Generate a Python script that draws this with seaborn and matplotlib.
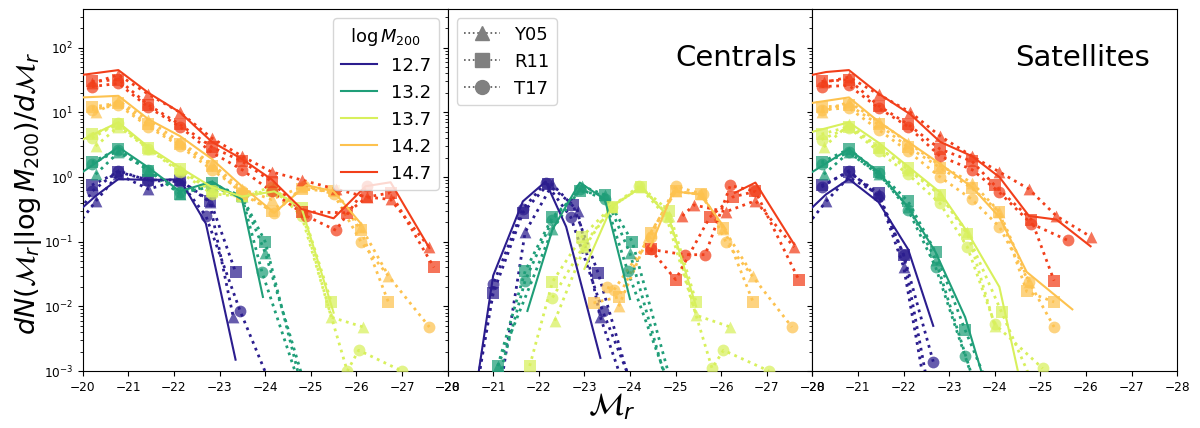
import matplotlib
matplotlib.use("Agg")
import matplotlib.pyplot as plt
import seaborn as sns
from matplotlib.lines import Line2D

# ---------------- data ----------------
MASSES = ["12.7", "13.2", "13.7", "14.2", "14.7"]
COLORS = ["#2b1d8e", "#1f9e78", "#d8f05c", "#fdc24f", "#f23f1a"]
MODELS = ["Y05", "R11", "T17"]
MARKERS = {"Y05": "^", "R11": "s", "T17": "o"}
PANEL_TEXT = ["", "Centrals", "Satellites"]
XTICKS = [-20, -21, -22, -23, -24, -25, -26, -27, -28]

# ---- total (left panel) ----
TOT_OBS = {
    "12.7": ([-20.0, -20.3, -20.78, -21.44, -22.13, -22.7, -23.35],
             [0.34, 0.52, 0.93, 0.9, 0.92, 0.19, 0.0015]),
    "13.2": ([-20.0, -20.78, -21.44, -22.13, -22.83, -23.49, -23.95],
             [1.2, 2.9, 1.4, 0.6, 0.85, 0.45, 0.014]),
    "13.7": ([-20.0, -20.78, -21.44, -22.13, -22.83, -23.49, -24.2, -24.8, -25.5],
             [3.8, 7.0, 2.9, 1.4, 0.7, 0.5, 0.6, 0.33, 0.008]),
    "14.2": ([-20.0, -20.78, -21.44, -22.13, -22.83, -23.49, -24.2, -24.9, -25.5, -26.1],
             [17, 18, 7.8, 4.3, 1.9, 0.72, 0.28, 0.75, 0.6, 0.19]),
    "14.7": ([-20.0, -20.78, -21.44, -22.13, -22.83, -23.49, -24.14, -24.8, -25.5, -26.2, -26.75, -27.6],
             [38, 45, 20, 10, 3.5, 1.9, 0.92, 0.32, 0.23, 0.72, 0.83, 0.08]),
}
TOT_Y05 = {
    "12.7": ([-19.8, -20.28, -20.78, -21.44, -22.13, -22.78, -23.3],
             [0.15, 0.42, 1.1, 0.65, 0.9, 0.41, 0.0068]),
    "13.2": ([-20.28, -20.78, -21.44, -22.13, -22.83, -23.49, -24.0, -25.0],
             [1.1, 2.4, 1.3, 0.55, 0.75, 0.5, 0.068, 0.0003]),
    "13.7": ([-20.28, -20.78, -21.44, -22.13, -22.83, -23.49, -24.2, -24.8, -25.45, -26.15],
             [3.0, 6.0, 2.7, 1.3, 0.6, 0.5, 0.65, 0.3, 0.0068, 0.0048]),
    "14.2": ([-20.28, -20.78, -21.44, -22.13, -22.83, -23.49, -24.14, -24.8, -25.5, -26.1, -26.7],
             [10, 15, 7.5, 3.5, 1.6, 0.65, 0.45, 0.7, 0.65, 0.17, 0.03]),
    "14.7": ([-20.2, -20.78, -21.44, -22.13, -22.83, -23.49, -24.14, -24.8, -25.55, -26.23, -26.75, -27.6],
             [28, 38, 19, 10, 4, 2.1, 1.2, 0.9, 0.65, 0.49, 0.45, 0.082]),
}
TOT_R11 = {
    "12.7": ([-20.2, -20.78, -21.44, -22.13, -22.8, -23.35],
             [0.75, 1.2, 0.9, 0.9, 0.42, 0.034]),
    "13.2": ([-20.2, -20.78, -21.44, -22.13, -22.83, -23.49, -24.0, -24.9],
             [1.7, 2.7, 1.25, 0.55, 0.8, 0.5, 0.1, 0.0003]),
    "13.7": ([-20.2, -20.78, -21.44, -22.13, -22.83, -23.49, -24.14, -24.8, -25.45],
             [4.6, 6.5, 2.8, 1.35, 0.6, 0.5, 0.6, 0.33, 0.0117]),
    "14.2": ([-20.2, -20.78, -21.44, -22.13, -22.83, -23.49, -24.14, -24.8, -25.5, -26.1, -26.7],
             [12, 14, 6.5, 3.2, 1.5, 0.55, 0.3, 0.65, 0.6, 0.15, 0.0117]),
    "14.7": ([-20.2, -20.78, -21.44, -22.13, -22.83, -23.49, -24.14, -24.8, -25.8, -26.23, -26.75, -27.7],
             [30, 32, 13, 6.5, 2.9, 1.75, 0.85, 0.29, 0.28, 0.49, 0.57, 0.04]),
}
TOT_T17 = {
    "12.7": ([-19.8, -20.2, -20.78, -21.44, -22.13, -22.7, -23.45, -24.3],
             [0.2, 0.6, 1.25, 0.88, 0.85, 0.25, 0.0085, 0.0003]),
    "13.2": ([-20.2, -20.78, -21.44, -22.13, -22.83, -23.49, -23.93, -24.9],
             [1.6, 2.6, 1.3, 0.58, 0.7, 0.5, 0.034, 0.0003]),
    "13.7": ([-20.2, -20.78, -21.44, -22.13, -22.83, -23.49, -24.14, -24.8, -25.8, -26.05, -27.0],
             [4.0, 6.8, 2.7, 1.2, 0.55, 0.5, 0.7, 0.25, 0.001, 0.0021, 0.001]),
    "14.2": ([-20.2, -20.78, -21.44, -22.13, -22.83, -23.49, -24.2, -24.85, -25.5, -26.1, -27.6],
             [11, 13, 6, 3, 1.3, 0.6, 0.28, 0.72, 0.55, 0.1, 0.0048]),
    "14.7": ([-20.2, -20.78, -21.44, -22.13, -22.83, -23.49, -24.14, -24.9, -25.55, -26.23],
             [25, 28, 12, 6, 2.4, 1.3, 0.6, 0.25, 0.15, 0.72]),
}

# ---- centrals (middle panel) ----
CEN_OBS = {
    "12.7": ([-20.62, -21.0, -21.65, -22.15, -22.6, -23.35],
             [0.0005, 0.03, 0.42, 0.85, 0.17, 0.0016]),
    "13.2": ([-21.75, -22.3, -22.9, -23.45, -24.0],
             [0.0085, 0.155, 0.82, 0.45, 0.013]),
    "13.7": ([-23.0, -23.6, -24.25, -24.85, -25.45],
             [0.038, 0.35, 0.7, 0.24, 0.01]),
    "14.2": ([-24.45, -24.95, -25.55, -26.1],
             [0.085, 0.6, 0.54, 0.155]),
    "14.7": ([-26.3, -26.75, -27.6],
             [0.57, 0.82, 0.091]),
}
CEN_Y05 = {
    "12.7": ([-21.15, -21.7, -22.3, -22.85, -23.35, -23.9],
             [0.0005, 0.14, 0.77, 0.3, 0.0068, 0.0005]),
    "13.2": ([-21.1, -22.3, -22.95, -23.45, -24.0, -24.85],
             [0.0012, 0.155, 0.72, 0.53, 0.066, 0.0005]),
    "13.7": ([-22.35, -23.0, -23.6, -24.25, -24.85, -25.45, -26.2],
             [0.006, 0.082, 0.35, 0.7, 0.25, 0.0073, 0.0048]),
    "14.2": ([-23.75, -24.4, -25.0, -25.55, -26.05, -26.7],
             [0.01, 0.12, 0.6, 0.54, 0.16, 0.03]),
    "14.7": ([-25.15, -25.4, -26.1, -26.75, -27.6],
             [0.25, 0.37, 0.29, 0.43, 0.082]),
}
CEN_R11 = {
    "12.7": ([-20.63, -21.0, -21.65, -22.2, -22.75, -23.3, -24.05],
             [0.0005, 0.016, 0.28, 0.77, 0.37, 0.033, 0.0005]),
    "13.2": ([-21.1, -21.7, -22.3, -22.9, -23.45, -24.05, -24.95],
             [0.0012, 0.035, 0.24, 0.6, 0.53, 0.1, 0.0005]),
    "13.7": ([-21.8, -22.3, -22.95, -23.6, -24.25, -24.85, -25.45],
             [0.0012, 0.024, 0.12, 0.35, 0.7, 0.3, 0.0117]),
    "14.2": ([-23.2, -23.75, -24.45, -25.0, -25.55, -26.05, -26.7],
             [0.0113, 0.014, 0.135, 0.6, 0.54, 0.165, 0.0117]),
    "14.7": ([-24.45, -25.0, -25.75, -26.25, -26.75, -27.7],
             [0.076, 0.026, 0.24, 0.49, 0.6, 0.026]),
}
CEN_T17 = {
    "12.7": ([-20.63, -21.0, -21.65, -22.15, -22.7, -23.4, -24.1],
             [0.0005, 0.022, 0.32, 0.82, 0.24, 0.0085, 0.0005]),
    "13.2": ([-21.05, -21.7, -22.3, -22.9, -23.45, -23.95, -24.9],
             [0.0005, 0.025, 0.22, 0.65, 0.45, 0.035, 0.0005]),
    "13.7": ([-22.3, -23.0, -23.6, -24.2, -24.8, -25.8, -26.05, -27.05],
             [0.0137, 0.09, 0.35, 0.72, 0.24, 0.0011, 0.0021, 0.001]),
    "14.2": ([-23.5, -23.65, -24.45, -25.0, -25.6, -26.1, -27.55],
             [0.0198, 0.018, 0.12, 0.72, 0.54, 0.1, 0.0048]),
    "14.7": ([-24.45, -25.2, -25.65, -26.2, -26.75],
             [0.076, 0.063, 0.063, 0.74, 0.6]),
}

# ---- satellites (right panel) ----
SAT_OBS = {
    "12.7": ([-20.0, -20.3, -20.8, -21.45, -22.1, -22.65],
             [0.34, 0.54, 0.93, 0.41, 0.076, 0.005]),
    "13.2": ([-20.0, -20.8, -21.45, -22.1, -22.7, -23.35, -23.83],
             [1.2, 2.7, 1.2, 0.34, 0.069, 0.0068, 0.0005]),
    "13.7": ([-20.0, -20.8, -21.45, -22.1, -22.8, -23.4, -24.1, -24.6],
             [5.0, 7.0, 3.4, 1.45, 0.58, 0.14, 0.02, 0.0005]),
    "14.2": ([-20.0, -20.8, -21.45, -22.1, -22.8, -23.5, -24.1, -24.7, -25.7],
             [14, 17, 7.2, 3.5, 1.6, 0.7, 0.24, 0.034, 0.009]),
    "14.7": ([-20.0, -20.3, -20.8, -21.45, -22.15, -22.8, -23.5, -24.1, -24.75, -25.35, -26.1],
             [38, 42, 45, 19.5, 9.3, 3.5, 2.1, 1.0, 0.25, 0.22, 0.085]),
}
SAT_Y05 = {
    "12.7": ([-19.8, -20.3, -20.8, -21.45, -22.0, -22.48],
             [0.15, 0.42, 1.0, 0.54, 0.041, 0.0005]),
    "13.2": ([-20.25, -20.8, -21.45, -22.1, -22.7, -23.6],
             [1.1, 2.4, 1.1, 0.35, 0.053, 0.0005]),
    "13.7": ([-20.25, -20.8, -21.45, -22.1, -22.8, -23.4, -24.0],
             [2.9, 6.5, 2.9, 1.3, 0.53, 0.14, 0.005]),
    "14.2": ([-20.2, -20.8, -21.45, -22.1, -22.8, -23.5, -24.1, -24.75],
             [10, 14.5, 7.2, 3.4, 1.5, 0.82, 0.29, 0.024]),
    "14.7": ([-20.25, -20.8, -21.45, -22.15, -22.8, -23.5, -24.1, -24.75, -25.35, -26.1],
             [29, 35, 19, 10, 4.3, 2.1, 1.2, 0.65, 0.25, 0.12]),
}
SAT_R11 = {
    "12.7": ([-20.2, -20.8, -21.45, -22.0, -22.55],
             [0.74, 1.2, 0.56, 0.063, 0.0005]),
    "13.2": ([-20.2, -20.8, -21.45, -22.1, -22.7, -23.35, -23.9],
             [1.7, 2.7, 1.2, 0.42, 0.069, 0.0043, 0.0005]),
    "13.7": ([-20.2, -20.8, -21.45, -22.1, -22.8, -23.4, -24.15, -24.9],
             [4.6, 6.0, 2.8, 1.4, 0.53, 0.13, 0.0081, 0.0005]),
    "14.2": ([-20.2, -20.8, -21.45, -22.1, -22.8, -23.5, -24.1, -24.7, -25.3],
             [12, 13, 6.5, 2.9, 1.4, 0.67, 0.29, 0.017, 0.0117]),
    "14.7": ([-20.2, -20.8, -21.45, -22.1, -22.8, -23.5, -24.0, -24.8, -25.3],
             [30, 32, 12.7, 6.5, 2.7, 1.75, 0.74, 0.22, 0.025]),
}
SAT_T17 = {
    "12.7": ([-20.2, -20.8, -21.45, -22.0, -22.65],
             [0.7, 1.25, 0.5, 0.063, 0.0014]),
    "13.2": ([-20.2, -20.8, -21.45, -22.1, -22.7, -23.35, -23.6],
             [1.6, 2.4, 1.15, 0.31, 0.041, 0.0017, 0.0005]),
    "13.7": ([-20.2, -20.8, -21.45, -22.1, -22.8, -23.4, -24.0, -25.05],
             [3.8, 5.8, 2.5, 1.1, 0.39, 0.082, 0.0053, 0.0011]),
    "14.2": ([-20.2, -20.8, -21.45, -22.1, -22.8, -23.5, -24.1, -24.75, -25.3],
             [11, 11.7, 5.4, 2.5, 1.0, 0.45, 0.17, 0.024, 0.0048]),
    "14.7": ([-20.2, -20.8, -21.45, -22.1, -22.8, -23.5, -24.1, -24.8, -25.6],
             [25, 26, 11.7, 6, 2.1, 1.3, 0.58, 0.19, 0.105]),
}

PANELS = [
    (TOT_OBS, {"Y05": TOT_Y05, "R11": TOT_R11, "T17": TOT_T17}),
    (CEN_OBS, {"Y05": CEN_Y05, "R11": CEN_R11, "T17": CEN_T17}),
    (SAT_OBS, {"Y05": SAT_Y05, "R11": SAT_R11, "T17": SAT_T17}),
]

# ---------------- figure ----------------
fig, axes = plt.subplots(1, 3, figsize=(12, 4.28), dpi=100, sharey=True)
fig.subplots_adjust(left=0.069, right=0.981, bottom=0.133, top=0.978, wspace=0)

for ax, (obs, models), ptxt in zip(axes, PANELS, PANEL_TEXT):
    ax.set_yscale("log")
    for m, c in zip(MASSES, COLORS):
        for mod in MODELS:
            xs, ys = models[mod][m]
            sns.lineplot(x=xs, y=ys, ax=ax, color=c, linestyle=":", linewidth=2.0,
                         sort=False, estimator=None, zorder=2)
            sns.scatterplot(x=xs, y=ys, ax=ax, color=c, marker=MARKERS[mod], s=72,
                            linewidth=0, alpha=0.72, zorder=3)
        xs, ys = obs[m]
        sns.lineplot(x=xs, y=ys, ax=ax, color=c, linewidth=1.5, sort=False,
                     estimator=None, zorder=4)
    ax.set_xlim(-20, -28)
    ax.set_ylim(1e-3, 390)
    ax.set_xticks(XTICKS)
    ax.tick_params(labelsize=8.7)
    ax.set_xlabel("")
    ax.set_ylabel("")
    if ptxt:
        ax.text(0.79 if ptxt == "Centrals" else 0.74, 0.867, ptxt, transform=ax.transAxes,
                ha="center", va="center", fontsize=21)

# mass legend
h1 = [Line2D([], [], color=c, lw=1.5) for c in COLORS]
axes[0].legend(h1, MASSES, title=r"$\log M_{200}$", loc="upper right",
               fontsize=13, title_fontsize=13)
# model legend
h2 = [Line2D([], [], color="#555555", ls=":", lw=1.2, marker=MARKERS[mod],
             markerfacecolor="grey", markeredgecolor="grey", markersize=10)
      for mod in MODELS]
axes[1].legend(h2, MODELS, loc="upper left", fontsize=13)

fig.text(29 / 1200, 1 - 193 / 428, r"$dN(\mathcal{M}_r|\log M_{200})/d\mathcal{M}_r$",
         rotation=90, ha="center", va="center", fontsize=19.5)
fig.text(612 / 1200, 1 - 407 / 428, r"$\mathcal{M}_r$", ha="center", va="center",
         fontsize=22)

fig.savefig("out.png", dpi=100)
